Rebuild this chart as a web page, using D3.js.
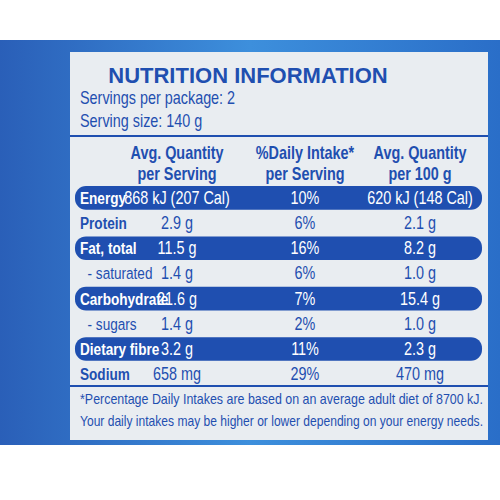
<!DOCTYPE html><html><head><meta charset="utf-8">
<script src="https://cdn.jsdelivr.net/npm/d3@7"></script>
<style>body{margin:0;background:#fff}text{font-family:"Liberation Sans",sans-serif}</style>
</head><body><svg id="c" width="500" height="500"></svg>
<script>
const nutrients=["Energy","Protein","Fat, total","  - saturated","Carbohydrate","  - sugars","Dietary fibre","Sodium"];
const perServing=["868 kJ (207 Cal)","2.9 g","11.5 g","1.4 g","21.6 g","1.4 g","3.2 g","658 mg"];
const dailyIntake=["10%","6%","16%","6%","7%","2%","11%","29%"];
const per100g=["620 kJ (148 Cal)","2.1 g","8.2 g","1.0 g","15.4 g","1.0 g","2.3 g","470 mg"];
const highlighted=[true,false,true,false,true,false,true,false];
const headers=[["Avg. Quantity","per Serving"],["%Daily Intake*","per Serving"],["Avg. Quantity","per 100 g"]];
const footnote=["*Percentage Daily Intakes are based on an average adult diet of 8700 kJ.","Your daily intakes may be higher or lower depending on your energy needs."];
const svg=d3.select("#c");
const blue="#1f4fb0";
const SX=0.8;
const defs=svg.append("defs");
const g=defs.append("linearGradient").attr("id","bg").attr("x1",0).attr("x2",1);
g.append("stop").attr("offset","0").attr("stop-color","#2a5fb8");
g.append("stop").attr("offset","0.5").attr("stop-color","#3d8fdc");
g.append("stop").attr("offset","1").attr("stop-color","#2a6ec8");
svg.append("rect").attr("width",500).attr("height",500).attr("fill","#fff");
svg.append("rect").attr("x",0).attr("y",40).attr("width",500).attr("height",405).attr("fill","url(#bg)");
svg.append("rect").attr("x",70).attr("y",52).attr("width",418).attr("height",388).attr("fill","#e9edf1");
function txt(sel,x,y,s,anchor){return sel.append("text").attr("transform",`translate(${x},${y}) scale(${SX},1)`).attr("text-anchor",anchor||"start").attr("font-size",s).attr("fill",blue);}
svg.append("text").attr("x",248).attr("y",83).attr("text-anchor","middle").attr("fill",blue).attr("font-weight","bold").attr("font-size",22).text("NUTRITION INFORMATION");
txt(svg,80,104,18).text("Servings per package: 2");
txt(svg,80,127,18).text("Serving size: 140 g");
svg.append("line").attr("x1",70).attr("x2",488).attr("y1",136).attr("y2",136).attr("stroke",blue).attr("stroke-width",2);
const cols=d3.scaleOrdinal().domain([0,1,2]).range([177,305,420]);
headers.forEach((h,i)=>h.forEach((t,j)=>txt(svg,cols(i),159+j*21,18,"middle").attr("font-weight","bold").text(t)));
const y=d3.scaleBand().domain(d3.range(nutrients.length)).range([186,386]).paddingInner(0.06);
const rows=svg.selectAll("g.r").data(nutrients).join("g").attr("transform",(d,i)=>`translate(0,${y(i)})`);
rows.filter((d,i)=>highlighted[i]).append("rect").attr("x",75).attr("width",407).attr("height",y.bandwidth()).attr("rx",11).attr("fill",blue);
const col=(i)=>highlighted[i]?"#fff":blue;
const ty=y.bandwidth()/2+6;
rows.each(function(d,i){
  const s=d3.select(this);
  const label=d.startsWith(" ")?"\u00a0\u00a0- "+d.trim().slice(2):d;
  txt(s,80,ty,17).attr("fill",col(i)).attr("font-weight",highlighted[i]||i==7||i==1?"bold":"normal").text(label);
  [perServing,dailyIntake,per100g].forEach((arr,k)=>txt(s,cols(k),ty,18,"middle").attr("fill",col(i)).text(arr[i]));
});
svg.append("line").attr("x1",70).attr("x2",488).attr("y1",386).attr("y2",386).attr("stroke",blue).attr("stroke-width",2);
footnote.forEach((t,i)=>svg.append("text").attr("x",80).attr("y",404+i*22).attr("fill",blue).attr("font-size",15).attr("textLength",403).attr("lengthAdjust","spacingAndGlyphs").text(t));
</script></body></html>
